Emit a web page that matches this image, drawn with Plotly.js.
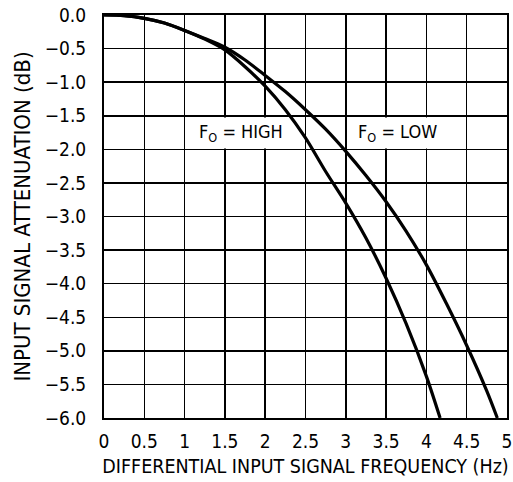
<!DOCTYPE html>
<html>
<head>
<meta charset="utf-8">
<script src="https://cdn.plot.ly/plotly-3.0.1.min.js"></script>
<style>
html,body{margin:0;padding:0;background:#fff;}
#chart{width:513px;height:482px;}
</style>
</head>
<body>
<div id="chart"></div>
<script>
// Frequencies (Hz) and attenuation (dB)
const freqHigh = [0, 0.25, 0.5, 0.75, 1.0, 1.25, 1.5, 1.75, 2.0, 2.25, 2.5, 2.75, 3.0, 3.25, 3.5, 3.75, 4.0, 4.17];
const attenHigh = [0, -0.01, -0.05, -0.12, -0.23, -0.36, -0.52, -0.77, -1.06, -1.41, -1.83, -2.33, -2.8, -3.32, -3.92, -4.6, -5.38, -6.0];

const freqLow = [0, 0.25, 0.5, 0.75, 1.0, 1.25, 1.5, 1.75, 2.0, 2.25, 2.5, 2.75, 3.0, 3.25, 3.5, 3.75, 4.0, 4.25, 4.5, 4.75, 4.88];
const attenLow = [0, -0.01, -0.05, -0.12, -0.23, -0.35, -0.48, -0.67, -0.9, -1.14, -1.41, -1.7, -2.03, -2.39, -2.78, -3.22, -3.72, -4.3, -4.92, -5.6, -6.0];

const xTicks = [0, 0.5, 1, 1.5, 2, 2.5, 3, 3.5, 4, 4.5, 5];
const yTicks = [0, -0.5, -1, -1.5, -2, -2.5, -3, -3.5, -4, -4.5, -5, -5.5, -6];

const labelHigh = 'F<sub>O</sub> = HIGH';
const labelLow = 'F<sub>O</sub> = LOW';

const FONT = '"Liberation Sans Narrow", "DejaVu Sans Condensed", "Arial Narrow", sans-serif';

const traces = [
  {x: freqHigh, y: attenHigh, mode: 'lines', line: {color: '#000', width: 3.2, shape: 'spline', smoothing: 0.8}, hoverinfo: 'skip'},
  {x: freqLow, y: attenLow, mode: 'lines', line: {color: '#000', width: 3.2, shape: 'spline', smoothing: 0.8}, hoverinfo: 'skip'}
];

const layout = {
  width: 513, height: 482,
  margin: {l: 104, r: 6, t: 15, b: 64, pad: 0},
  paper_bgcolor: '#fff', plot_bgcolor: '#fff',
  showlegend: false,
  font: {family: FONT, size: 18, color: '#000'},
  xaxis: {
    range: [0, 5], tickvals: xTicks, ticktext: xTicks.map(String),
    showgrid: true, gridcolor: '#000', gridwidth: 1.5,
    showline: true, linecolor: '#000', linewidth: 2, mirror: true,
    zeroline: false, ticks: '', ticklabelstandoff: 5,
    tickfont: {family: FONT, size: 19, color: '#000'},
    title: {text: 'DIFFERENTIAL INPUT SIGNAL FREQUENCY (Hz)', font: {family: FONT, size: 19.5, color: '#000'}, standoff: 9}
  },
  yaxis: {
    range: [-6, 0], tickvals: yTicks, tickformat: '.1f',
    showgrid: true, gridcolor: '#000', gridwidth: 1.5,
    showline: true, linecolor: '#000', linewidth: 2, mirror: true,
    zeroline: false, ticks: '', ticklabelstandoff: 12,
    tickfont: {family: FONT, size: 19, color: '#000'},
    title: {text: 'INPUT SIGNAL ATTENUATION (dB)', font: {family: FONT, size: 22, color: '#000'}, standoff: 8}
  },
  annotations: [
    {x: 1.13, y: -1.75, xref: 'x', yref: 'y', xanchor: 'left', yanchor: 'middle', text: labelHigh, showarrow: false,
     bgcolor: '#fff', borderpad: 3, font: {family: FONT, size: 18, color: '#000'}},
    {x: 3.1, y: -1.75, xref: 'x', yref: 'y', xanchor: 'left', yanchor: 'middle', text: labelLow, showarrow: false,
     bgcolor: '#fff', borderpad: 3, font: {family: FONT, size: 18, color: '#000'}}
  ]
};

Plotly.newPlot('chart', traces, layout, {staticPlot: true, displayModeBar: false});
</script>
</body>
</html>
